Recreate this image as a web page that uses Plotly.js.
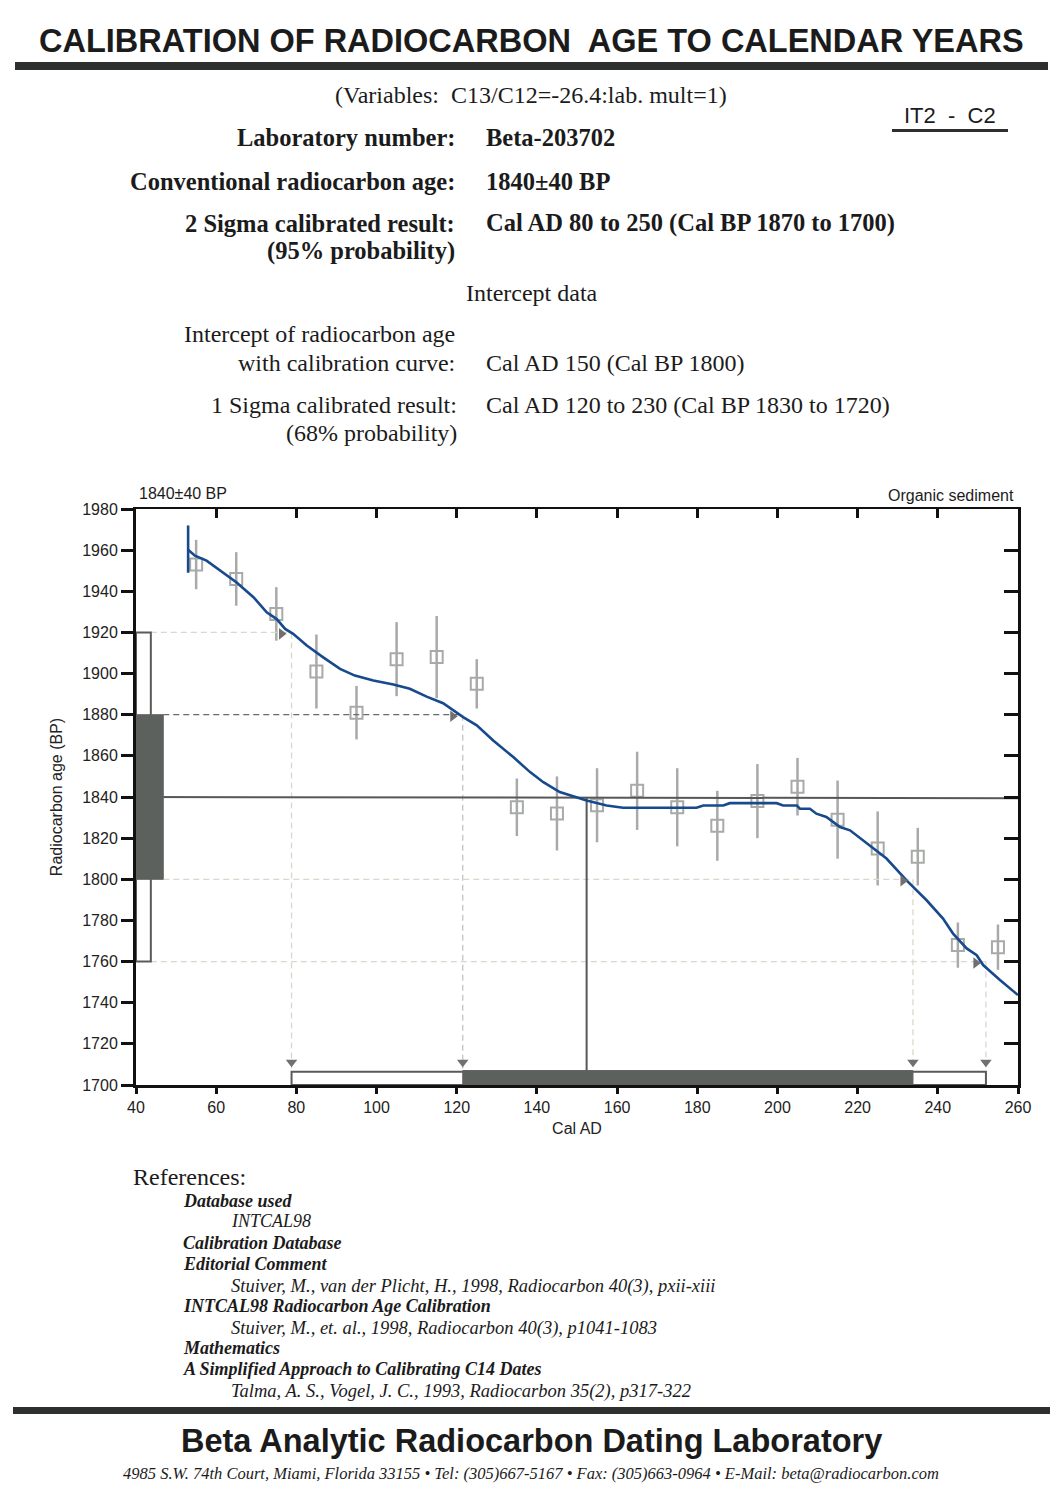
<!DOCTYPE html>
<html>
<head>
<meta charset="utf-8">
<script src="https://cdn.plot.ly/plotly-3.0.1.min.js"></script>
<style>html,body{margin:0;padding:0;background:#fff;}#chart{width:1062px;height:1498px;}</style>
</head>
<body>
<div id="chart"></div>
<script>
// ---------- data ----------
const measuredAD = [55,65,75,85,95,105,115,125,135,145,155,165,175,185,195,205,215,225,235,245,255];
const measuredBP = [1953,1946,1929,1901,1881,1907,1908,1895,1835,1832,1836,1843,1835,1826,1838,1845,1829,1815,1811,1768,1767];
const measuredErr = [12,13,13,18,13,18,20,12,14,18,18,19,19,17,18,14,19,18,14,11,11];

const curveAD = [53,54.7,57.6,61.8,65.1,69.3,72.6,75.1,77.2,79.2,82.6,86.7,90.9,94.6,99.2,104.2,108.3,112.5,116.6,121.6,125,129.1,134.1,138.3,141.6,145.7,152.4,157.4,161.5,179.8,181.5,186.5,188.1,199.8,201.4,204.8,205.6,208.1,209.7,212.2,215.6,218.1,223,227.2,232.2,237.2,241.3,243.8,247.2,249.7,251.3,255.5,260];
const curveBP = [1960.2,1957.3,1954.9,1949.2,1944.3,1937.1,1929.8,1926.5,1921.7,1919.3,1913.6,1907.9,1902.3,1899,1896.6,1894.7,1892.6,1888.8,1885.6,1878.8,1874.8,1867.5,1859.4,1852.1,1847.2,1842.4,1838.3,1835.9,1834.8,1834.8,1835.9,1835.9,1837,1837,1835.9,1835.9,1834.3,1834.3,1831.9,1830.3,1825.4,1823.8,1816.5,1810.1,1799.5,1789.8,1780.9,1773.6,1766.4,1763.1,1758.3,1751,1743.7];
const curveStartAD = 53;
const curveStartBP = [1949, 1972];

const conventionalBP = 1840;
const oneSigmaBP = [1800, 1880];
const twoSigmaBP = [1760, 1920];
const oneSigmaAD = [121.5, 233.8];
const twoSigmaAD = [78.8, 252];
const interceptAD = 152.4;
// where the sigma limits meet the curve
const limitAD = [78.8, 121.5, 233.8, 252];
const limitBP = [1920, 1880, 1800, 1760];

const xTickVals = [40,60,80,100,120,140,160,180,200,220,240,260];
const yTickVals = [1700,1720,1740,1760,1780,1800,1820,1840,1860,1880,1900,1920,1940,1960,1980];

// ---------- page geometry ----------
const W = 1062, H = 1498;
const PL = 136, PR = 1018, PT = 509, PB = 1085;
const px = x => (x - PL) / (PR - PL);
const py = y => (PB - y) / (PB - PT);

const SANS = 'Liberation Sans, Arial, sans-serif';
const SERIF = 'Liberation Serif, Times New Roman, serif';
const INK = '#1b1b1b';

function T(text, x, y, size, family, anchor, extra) {
  return Object.assign({
    text: text, x: px(x), y: py(y), xref: 'paper', yref: 'paper',
    showarrow: false, xanchor: anchor || 'center', yanchor: 'middle',
    font: {family: family, size: size, color: INK}
  }, extra || {});
}
function pageRect(x0, y0, x1, y1, color) {
  return {type: 'rect', xref: 'paper', yref: 'paper', x0: px(x0), x1: px(x1), y0: py(y0), y1: py(y1),
    fillcolor: color, line: {width: 0}, layer: 'above'};
}

const GRAYBOX = '#5d615e';
const FAINT = '#d9d8cc';
const PTGRAY = '#a7aaa7';

// ---------- traces ----------
const traces = [];
// measured calibration data
traces.push({
  type: 'scatter', mode: 'markers', x: measuredAD, y: measuredBP,
  marker: {symbol: 'square-open', size: 12, color: PTGRAY, line: {width: 2, color: PTGRAY}},
  error_y: {type: 'data', array: measuredErr, visible: true, color: PTGRAY, thickness: 2.5, width: 0},
  hoverinfo: 'skip', showlegend: false
});
// dashed sigma guides
limitBP.forEach((b, i) => {
  const isOne = oneSigmaBP.indexOf(b) >= 0;
  const x0 = isOne ? 46.8 : 43.7;
  traces.push({type: 'scatter', mode: 'lines', x: [x0, limitAD[i]], y: [b, b],
    line: {color: (b === oneSigmaBP[1]) ? '#6a6a6a' : FAINT, width: 1.3, dash: '6px,4px'},
    hoverinfo: 'skip', showlegend: false});
  traces.push({type: 'scatter', mode: 'lines', x: [limitAD[i], limitAD[i]], y: [b, 1708],
    line: {color: (b === oneSigmaBP[1]) ? '#c4c4c4' : FAINT, width: 1.3, dash: '6px,4px'},
    hoverinfo: 'skip', showlegend: false});
});
// conventional age line
traces.push({type: 'scatter', mode: 'lines', x: [40, 260], y: [conventionalBP, conventionalBP - 0.6],
  line: {color: '#575757', width: 2}, hoverinfo: 'skip', showlegend: false});
// intercept line
traces.push({type: 'scatter', mode: 'lines', x: [interceptAD, interceptAD], y: [conventionalBP, 1706.5],
  line: {color: '#575757', width: 2}, hoverinfo: 'skip', showlegend: false});
// calibration curve
traces.push({type: 'scatter', mode: 'lines', x: curveAD, y: curveBP,
  line: {color: '#174a8c', width: 2.6}, hoverinfo: 'skip', showlegend: false});
traces.push({type: 'scatter', mode: 'lines', x: [curveStartAD, curveStartAD], y: curveStartBP,
  line: {color: '#174a8c', width: 2.6}, hoverinfo: 'skip', showlegend: false});
// arrow heads
traces.push({type: 'scatter', mode: 'markers', x: limitAD.map(v => v - 2.5), y: limitBP.map(v => v - 0.7),
  marker: {symbol: 'triangle-right', size: 10, color: '#707070'}, hoverinfo: 'skip', showlegend: false});
traces.push({type: 'scatter', mode: 'markers', x: limitAD, y: limitAD.map(() => 1711),
  marker: {symbol: 'triangle-down', size: 10, color: '#707070'}, hoverinfo: 'skip', showlegend: false});
// helper trace for mirrored axes
traces.push({type: 'scatter', mode: 'lines', x: [40], y: [1700], xaxis: 'x2', yaxis: 'y2',
  line: {width: 0}, hoverinfo: 'skip', showlegend: false});

// ---------- shapes ----------
const shapes = [
  {type: 'rect', xref: 'x', yref: 'y', x0: 40, x1: 43.7, y0: twoSigmaBP[0], y1: twoSigmaBP[1],
    fillcolor: '#ffffff', line: {color: '#5a5a5a', width: 2}, layer: 'above'},
  {type: 'rect', xref: 'x', yref: 'y', x0: 40, x1: 46.8, y0: oneSigmaBP[0], y1: oneSigmaBP[1],
    fillcolor: GRAYBOX, line: {color: GRAYBOX, width: 1}, layer: 'above'},
  {type: 'rect', xref: 'x', yref: 'y', x0: twoSigmaAD[0], x1: twoSigmaAD[1], y0: 1700, y1: 1706.5,
    fillcolor: '#ffffff', line: {color: '#5a5a5a', width: 2}, layer: 'above'},
  {type: 'rect', xref: 'x', yref: 'y', x0: oneSigmaAD[0], x1: oneSigmaAD[1], y0: 1700, y1: 1707,
    fillcolor: GRAYBOX, line: {color: GRAYBOX, width: 1}, layer: 'above'},
  pageRect(15, 62, 1048, 70, '#2e3030'),
  pageRect(892, 129, 1008, 132, '#2e3030'),
  pageRect(13, 1407, 1050, 1414, '#2e3030')
];

// ---------- annotations ----------
const B = s => '<b>' + s + '</b>';
const BI = s => '<b><i>' + s + '</i></b>';
const I = s => '<i>' + s + '</i>';
const annotations = [
  T(B('CALIBRATION OF RADIOCARBON&nbsp; AGE TO CALENDAR YEARS'), 531, 41, 32.5, SANS),
  T('(Variables:&nbsp; C13/C12=-26.4:lab. mult=1)', 531, 95, 24, SERIF),
  T('IT2&nbsp; -&nbsp; C2', 950, 115, 22, SANS),
  T(B('Laboratory number:'), 457, 137, 24.5, SERIF, 'right'),
  T(B('Beta-203702'), 484, 137, 24.5, SERIF, 'left'),
  T(B('Conventional radiocarbon age:'), 457, 181, 24.5, SERIF, 'right'),
  T(B('1840±40 BP'), 484, 181, 24.5, SERIF, 'left'),
  T(B('2 Sigma calibrated result:'), 457, 223, 24.5, SERIF, 'right'),
  T(B('Cal AD 80 to 250 (Cal BP 1870 to 1700)'), 484, 223, 24.5, SERIF, 'left'),
  T(B('(95% probability)'), 457, 251, 24.5, SERIF, 'right'),
  T('Intercept data', 532, 293, 24, SERIF),
  T('Intercept of radiocarbon age', 457, 334, 24, SERIF, 'right'),
  T('with calibration curve:', 457, 363, 24, SERIF, 'right'),
  T('Cal AD 150 (Cal BP 1800)', 484, 363, 24, SERIF, 'left'),
  T('1 Sigma calibrated result:', 459, 405, 24, SERIF, 'right'),
  T('Cal AD 120 to 230 (Cal BP 1830 to 1720)', 484, 405, 24, SERIF, 'left'),
  T('(68% probability)', 459, 433, 24, SERIF, 'right'),

  T('1840±40 BP', 137, 493, 16, SANS, 'left'),
  T('Organic sediment', 1016, 495, 16, SANS, 'right'),

  T('References:', 131, 1177, 24, SERIF, 'left'),
  T(BI('Database used'), 181, 1201, 18, SERIF, 'left'),
  T(I('INTCAL98'), 229, 1221, 18, SERIF, 'left'),
  T(BI('Calibration Database'), 181, 1243, 18, SERIF, 'left'),
  T(BI('Editorial Comment'), 181, 1264, 18, SERIF, 'left'),
  T(I('Stuiver, M., van der Plicht, H., 1998, Radiocarbon 40(3), pxii-xiii'), 229, 1286, 18.5, SERIF, 'left'),
  T(BI('INTCAL98 Radiocarbon Age Calibration'), 181, 1306, 18, SERIF, 'left'),
  T(I('Stuiver, M., et. al., 1998, Radiocarbon 40(3), p1041-1083'), 229, 1328, 18.5, SERIF, 'left'),
  T(BI('Mathematics'), 181, 1348, 18, SERIF, 'left'),
  T(BI('A Simplified Approach to Calibrating C14 Dates'), 181, 1369, 18, SERIF, 'left'),
  T(I('Talma, A. S., Vogel, J. C., 1993, Radiocarbon 35(2), p317-322'), 229, 1391, 18.5, SERIF, 'left'),

  T(B('Beta Analytic Radiocarbon Dating Laboratory'), 531, 1441, 32.5, SANS),
  T(I('4985 S.W. 74th Court, Miami, Florida 33155 • Tel: (305)667-5167 • Fax: (305)663-0964 • E-Mail: beta@radiocarbon.com'), 531, 1473, 16.5, SERIF)
];

// ---------- layout ----------
const tickFont = {family: SANS, size: 16, color: '#222'};
const layout = {
  width: W, height: H, autosize: false,
  paper_bgcolor: '#ffffff', plot_bgcolor: '#ffffff',
  margin: {l: PL, r: W - PR, t: PT, b: H - PB, pad: 0},
  showlegend: false,
  xaxis: {range: [40, 260], tickvals: xTickVals, ticks: 'outside', ticklen: 6, tickwidth: 3, tickcolor: '#111',
    showline: true, linewidth: 3, linecolor: '#111', showgrid: false, zeroline: false,
    tickfont: tickFont, title: {text: 'Cal AD', font: {family: SANS, size: 16, color: '#222'}, standoff: 8}},
  yaxis: {range: [1700, 1980], tickvals: yTickVals, ticks: 'outside', ticklen: 12, tickwidth: 3, tickcolor: '#111',
    showline: true, linewidth: 3, linecolor: '#111', showgrid: false, zeroline: false,
    tickfont: tickFont, title: {text: 'Radiocarbon age (BP)', font: {family: SANS, size: 16, color: '#222'}, standoff: 16}},
  xaxis2: {range: [40, 260], overlaying: 'x', side: 'top', anchor: 'y2', tickvals: xTickVals, ticks: 'inside',
    ticklen: 9, tickwidth: 3, tickcolor: '#111', showline: true, linewidth: 2, linecolor: '#111',
    showticklabels: false, showgrid: false, zeroline: false},
  yaxis2: {range: [1700, 1980], overlaying: 'y', side: 'right', anchor: 'x2', tickvals: yTickVals, ticks: 'inside',
    ticklen: 14, tickwidth: 3, tickcolor: '#111', showline: true, linewidth: 3, linecolor: '#111',
    showticklabels: false, showgrid: false, zeroline: false},
  shapes: shapes,
  annotations: annotations
};

Plotly.newPlot('chart', traces, layout, {staticPlot: true, displayModeBar: false});
</script>
</body>
</html>
